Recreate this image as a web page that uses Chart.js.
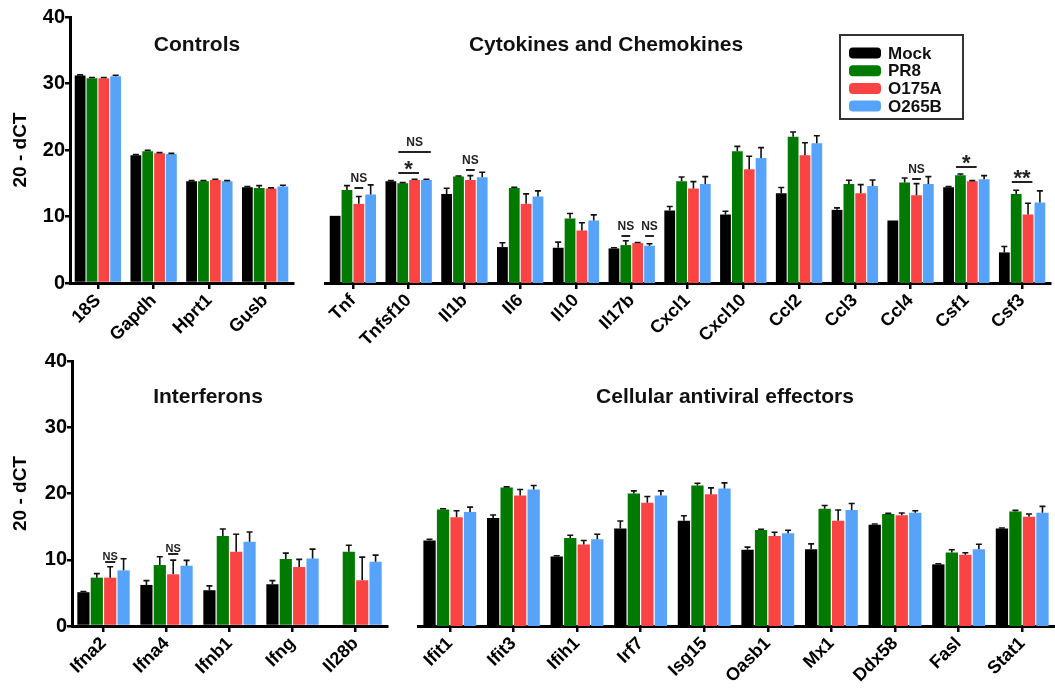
<!DOCTYPE html>
<html>
<head>
<meta charset="utf-8">
<script src="https://cdn.jsdelivr.net/npm/chart.js@4.4.1/dist/chart.umd.min.js"></script>
<style>
  html, body { margin: 0; padding: 0; background: #fff; }
  #wrap { position: relative; width: 1055px; height: 693px; overflow: hidden; background: #fff; }
  #wrap canvas { position: absolute; }
</style>
</head>
<body>
<div id="wrap">
  <canvas id="cControls"   width="300" height="360" style="left:0px;top:0px"></canvas>
  <canvas id="cCytokines"  width="755" height="360" style="left:300px;top:0px"></canvas>
  <canvas id="cInterferons" width="395" height="348" style="left:0px;top:345px"></canvas>
  <canvas id="cEffectors"  width="660" height="348" style="left:395px;top:345px"></canvas>
</div>
<script>
// ---- groups ----
const seriesNames = ['Mock', 'PR8', 'O175A', 'O265B'];

// ---- Controls ----
const controlGenes = ['18S', 'Gapdh', 'Hprt1', 'Gusb'];
const controlMock      = [31.2, 19.2, 15.3, 14.4];
const controlMockErr   = [0.1, 0.1, 0.1, 0.1];
const controlPR8       = [30.8, 19.8, 15.3, 14.3];
const controlPR8Err    = [0.1, 0.15, 0.1, 0.35];
const controlO175A     = [30.8, 19.5, 15.5, 14.2];
const controlO175AErr  = [0.1, 0.1, 0.1, 0.1];
const controlO265B     = [31.1, 19.4, 15.3, 14.5];
const controlO265BErr  = [0.15, 0.1, 0.1, 0.2];

// ---- Cytokines and chemokines ----
const cytokineGenes = ['Tnf', 'Tnfsf10', 'Il1b', 'Il6', 'Il10', 'Il17b', 'Cxcl1', 'Cxcl10', 'Ccl2', 'Ccl3', 'Ccl4', 'Csf1', 'Csf3'];
const cytokineMock     = [10.1, 15.3, 13.4, 5.4, 5.3, 5.2, 10.9, 10.3, 13.5, 11.0, 9.4, 14.4, 4.6];
const cytokineMockErr  = [0, 0.1, 0.85, 0.65, 0.85, 0.1, 0.6, 0.5, 0.85, 0.3, 0, 0.1, 0.9];
const cytokinePR8      = [14.0, 15.0, 16.0, 14.3, 9.7, 5.7, 15.3, 19.8, 22.0, 14.9, 15.1, 16.2, 13.4];
const cytokinePR8Err   = [0.65, 0.1, 0.1, 0.1, 0.75, 0.65, 0.65, 0.75, 0.7, 0.55, 0.7, 0.2, 0.55];
const cytokineO175A    = [11.9, 15.5, 15.5, 11.9, 7.9, 6.0, 14.2, 17.1, 19.2, 13.5, 13.2, 15.3, 10.3];
const cytokineO175AErr = [1.1, 0.1, 0.65, 1.5, 1.15, 0.1, 1.05, 1.95, 1.9, 1.3, 1.75, 0.1, 1.7];
const cytokineO265B    = [13.3, 15.5, 15.9, 13.0, 9.4, 5.6, 14.9, 18.8, 21.0, 14.6, 14.9, 15.6, 12.1];
const cytokineO265BErr = [1.45, 0.1, 0.75, 0.85, 0.85, 0.3, 1.1, 1.55, 1.15, 0.9, 1.1, 0.55, 1.75];
// significance marks: [gene, first group, last group, level, label]
const cytokineMarks = [
  ['Tnf', 2, 2, 14.3, 'NS'],
  ['Tnfsf10', 1, 2, 16.5, '*'],
  ['Tnfsf10', 1, 3, 19.7, 'NS'],
  ['Il1b', 2, 2, 17.0, 'NS'],
  ['Il17b', 1, 1, 7.1, 'NS'],
  ['Il17b', 3, 3, 7.1, 'NS'],
  ['Ccl4', 2, 2, 15.6, 'NS'],
  ['Csf1', 1, 2, 17.4, '*'],
  ['Csf3', 1, 2, 15.2, '**']
];

// ---- Interferons ----
const interferonGenes = ['Ifna2', 'Ifna4', 'Ifnb1', 'Ifng', 'Il28b'];
const interferonMock     = [5.1, 6.2, 5.4, 6.3, null];
const interferonMockErr  = [0.1, 0.65, 0.65, 0.55, null];
const interferonPR8      = [7.3, 9.2, 13.6, 10.1, 11.2];
const interferonPR8Err   = [0.6, 1.25, 1.05, 0.9, 1.0];
const interferonO175A    = [7.3, 7.8, 11.2, 8.9, 6.9];
const interferonO175AErr = [1.65, 2.15, 2.65, 1.15, 3.5];
const interferonO265B    = [8.4, 9.1, 12.7, 10.2, 9.7];
const interferonO265BErr = [1.75, 0.8, 1.5, 1.4, 1.0];
const interferonMarks = [
  ['Ifna2', 2, 2, 9.65, 'NS'],
  ['Ifna4', 2, 2, 10.9, 'NS']
];

// ---- Cellular antiviral effectors ----
const effectorGenes = ['Ifit1', 'Ifit3', 'Ifih1', 'Irf7', 'Isg15', 'Oasb1', 'Mx1', 'Ddx58', 'Fasl', 'Stat1'];
const effectorMock     = [12.9, 16.3, 10.5, 14.7, 15.9, 11.5, 11.6, 15.3, 9.3, 14.7];
const effectorMockErr  = [0.2, 0.45, 0.1, 1.15, 0.75, 0.4, 0.8, 0.1, 0.1, 0.1];
const effectorPR8      = [17.6, 20.9, 13.3, 20.0, 21.2, 14.5, 17.7, 16.9, 11.1, 17.3];
const effectorPR8Err   = [0.1, 0.1, 0.4, 0.4, 0.35, 0.1, 0.5, 0.1, 0.4, 0.15];
const effectorO175A    = [16.4, 19.7, 12.3, 18.6, 19.9, 13.6, 15.9, 16.7, 10.75, 16.5];
const effectorO175AErr = [1.0, 0.9, 0.6, 0.95, 0.95, 0.55, 1.6, 0.35, 0.3, 0.4];
const effectorO265B    = [17.2, 20.6, 13.1, 19.7, 20.75, 14.0, 17.5, 17.1, 11.6, 17.1];
const effectorO265BErr = [0.75, 0.6, 0.75, 0.7, 0.85, 0.45, 1.0, 0.3, 0.75, 0.95];

const yTicks = [0, 10, 20, 30, 40];

// ---- styling ----
const FONT = "'Liberation Sans', Arial, Helvetica, sans-serif";
const seriesColors = ['#000000', '#007a00', '#fa4343', '#57a3fa'];
Chart.defaults.font.family = FONT;
Chart.defaults.font.weight = 'bold';
Chart.defaults.color = '#000';
Chart.defaults.animation = false;

// error bars (upper whisker with cap)
const errorBars = {
  id: 'errorBars',
  afterDatasetsDraw(chart) {
    const ctx = chart.ctx, ys = chart.scales.y;
    ctx.save();
    ctx.strokeStyle = '#111';
    ctx.lineWidth = 1.6;
    chart.data.datasets.forEach((ds, di) => {
      const meta = chart.getDatasetMeta(di);
      meta.data.forEach((bar, i) => {
        const v = ds.data[i], e = ds.errors ? ds.errors[i] : null;
        if (v == null || !e) return;
        const y0 = ys.getPixelForValue(v);
        const y1 = ys.getPixelForValue(v + e);
        ctx.beginPath();
        ctx.moveTo(bar.x, y0);
        ctx.lineTo(bar.x, y1);
        ctx.moveTo(bar.x - 3, y1);
        ctx.lineTo(bar.x + 3, y1);
        ctx.stroke();
      });
    });
    ctx.restore();
  }
};

// significance brackets and labels
const sigMarks = {
  id: 'sigMarks',
  afterDatasetsDraw(chart, args, opts) {
    const marks = opts.marks || [];
    if (!marks.length) return;
    const ctx = chart.ctx, ys = chart.scales.y;
    const labels = chart.data.labels;
    ctx.save();
    ctx.strokeStyle = '#222';
    ctx.fillStyle = '#222';
    ctx.lineWidth = 2;
    ctx.textAlign = 'center';
    ctx.textBaseline = 'alphabetic';
    marks.forEach(([gene, a, b, level, text]) => {
      const idx = labels.indexOf(gene);
      const ba = chart.getDatasetMeta(a).data[idx];
      const bb = chart.getDatasetMeta(b).data[idx];
      const x0 = ba.x - ba.width / 2 + 1;
      const x1 = bb.x + bb.width / 2 - 1;
      const y = Math.round(ys.getPixelForValue(level));
      ctx.beginPath();
      ctx.moveTo(x0, y);
      ctx.lineTo(x1, y);
      ctx.stroke();
      const cx = (x0 + x1) / 2;
      if (text === 'NS') {
        ctx.font = `bold ${opts.nsSize}px ${FONT}`;
        ctx.fillText(text, cx, y - opts.nsGap);
      } else {
        ctx.font = `bold ${opts.starSize}px ${FONT}`;
        ctx.fillText(text, cx, y + opts.starGap);
      }
    });
    ctx.restore();
  }
};

// panel heading inside the plot area
const panelTitle = {
  id: 'panelTitle',
  afterDraw(chart, args, opts) {
    if (!opts.text) return;
    const ctx = chart.ctx, a = chart.chartArea;
    ctx.save();
    ctx.font = `bold 21px ${FONT}`;
    ctx.fillStyle = '#111';
    ctx.textAlign = 'center';
    ctx.textBaseline = 'middle';
    ctx.fillText(opts.text, a.left + opts.dx, a.top + opts.dy);
    ctx.restore();
  }
};

// boxed legend built from the datasets
const boxLegend = {
  id: 'boxLegend',
  afterDraw(chart, args, opts) {
    if (!opts.show) return;
    const ctx = chart.ctx, a = chart.chartArea;
    const left = a.right - opts.fromRight, top = a.top + opts.fromTop;
    ctx.save();
    ctx.strokeStyle = '#333';
    ctx.lineWidth = 2;
    ctx.strokeRect(left, top, 123, 84);
    ctx.font = `bold 17px ${FONT}`;
    ctx.textBaseline = 'middle';
    ctx.textAlign = 'left';
    chart.data.datasets.forEach((ds, i) => {
      const cy = top + 18 + i * 17.7;
      ctx.fillStyle = ds.backgroundColor;
      ctx.beginPath();
      ctx.roundRect(left + 9, cy - 5.5, 32, 11, 4);
      ctx.fill();
      ctx.fillStyle = '#111';
      ctx.fillText(ds.label, left + 48, cy + 1);
    });
    ctx.restore();
  }
};

Chart.register(errorBars, sigMarks, panelTitle, boxLegend);

function makeDatasets(values, errors) {
  return seriesNames.map((name, i) => ({
    label: name,
    data: values[i],
    errors: errors[i],
    backgroundColor: seriesColors[i],
    borderWidth: 0,
    categoryPercentage: 0.85,
    barPercentage: 0.91
  }));
}

function makePanel(id, labels, values, errors, cfg) {
  const yScale = cfg.showY ? {
    min: 0, max: 40,
    afterBuildTicks: s => { s.ticks = yTicks.map(v => ({ value: v })); },
    afterFit: s => { s.width = cfg.yWidth; },
    ticks: { color: '#000', font: { size: 20, weight: 'bold' }, padding: 0 },
    grid: { drawOnChartArea: false, drawTicks: true, tickLength: 5, tickWidth: 2.5, tickColor: '#000', color: '#000', lineWidth: 2.5 },
    border: { display: true, color: '#000', width: 3 },
    title: { display: true, text: '20 - dCT', color: '#000', font: { size: 19, weight: 'bold' }, padding: { top: 9, bottom: 0 } }
  } : { display: false, min: 0, max: 40 };

  return new Chart(document.getElementById(id), {
    type: 'bar',
    data: { labels, datasets: makeDatasets(values, errors) },
    options: {
      responsive: false,
      devicePixelRatio: 1,
      layout: { padding: cfg.padding },
      scales: {
        x: {
          offset: true,
          afterFit: s => { s.height = cfg.xHeight; },
          grid: { offset: false, drawOnChartArea: false, drawTicks: true, tickLength: 6, tickWidth: 2.5, tickColor: '#000', color: '#000', lineWidth: 2.5 },
          border: { display: true, color: '#000', width: 3 },
          ticks: { color: '#000', autoSkip: false, minRotation: 45, maxRotation: 45, padding: 1, font: { size: 18, weight: 'bold' } }
        },
        y: yScale
      },
      plugins: {
        legend: { display: false },
        tooltip: { enabled: false },
        panelTitle: cfg.title,
        sigMarks: Object.assign({ marks: [], nsSize: 12, nsGap: 6, starSize: 22, starGap: 3 }, cfg.marks || {}),
        boxLegend: cfg.legend || { show: false }
      }
    }
  });
}

makePanel('cControls', controlGenes,
  [controlMock, controlPR8, controlO175A, controlO265B],
  [controlMockErr, controlPR8Err, controlO175AErr, controlO265BErr],
  { showY: true, yWidth: 70, xHeight: 77, padding: { left: 0, right: 7, top: 17, bottom: 0 },
    title: { text: 'Controls', dx: 127, dy: 28 } });

makePanel('cCytokines', cytokineGenes,
  [cytokineMock, cytokinePR8, cytokineO175A, cytokineO265B],
  [cytokineMockErr, cytokinePR8Err, cytokineO175AErr, cytokineO265BErr],
  { showY: false, xHeight: 77, padding: { left: 25, right: 5, top: 17, bottom: 0 },
    title: { text: 'Cytokines and Chemokines', dx: 281, dy: 28 },
    marks: { marks: cytokineMarks },
    legend: { show: true, fromRight: 210, fromTop: 18 } });

makePanel('cInterferons', interferonGenes,
  [interferonMock, interferonPR8, interferonO175A, interferonO265B],
  [interferonMockErr, interferonPR8Err, interferonO175AErr, interferonO265BErr],
  { showY: true, yWidth: 72, xHeight: 67, padding: { left: 0, right: 8, top: 16, bottom: 0 },
    title: { text: 'Interferons', dx: 136, dy: 36 },
    marks: { marks: interferonMarks, nsSize: 11, nsGap: 2 } });

makePanel('cEffectors', effectorGenes,
  [effectorMock, effectorPR8, effectorO175A, effectorO265B],
  [effectorMockErr, effectorPR8Err, effectorO175AErr, effectorO265BErr],
  { showY: false, xHeight: 67, padding: { left: 23, right: 1, top: 16, bottom: 0 },
    title: { text: 'Cellular antiviral effectors', dx: 307, dy: 36 } });
</script>
</body>
</html>
